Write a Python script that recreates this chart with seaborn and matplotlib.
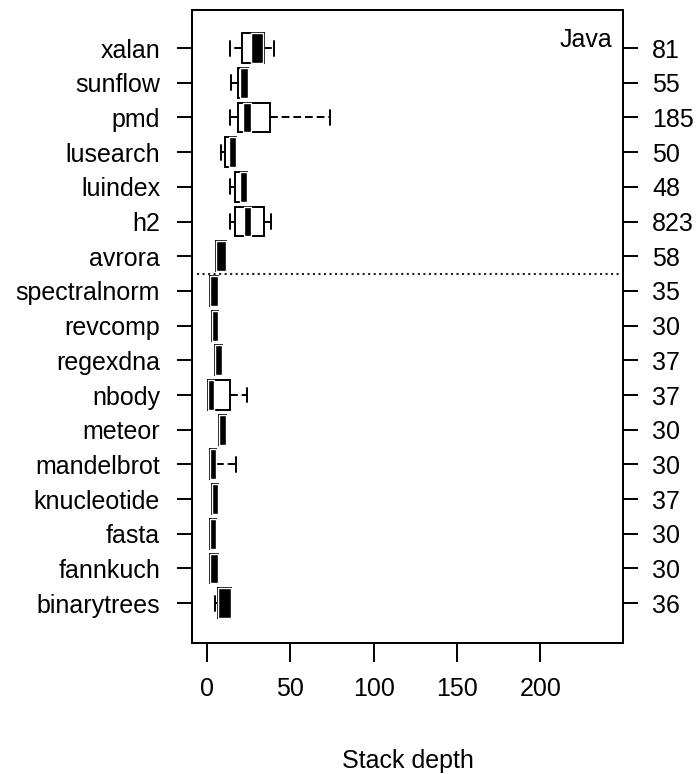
import numpy as np
import pandas as pd
import seaborn as sns
import matplotlib
matplotlib.use('Agg')
import matplotlib.pyplot as plt

# benchmarks, top to bottom
benchmarks = ['xalan', 'sunflow', 'pmd', 'lusearch', 'luindex', 'h2', 'avrora',
              'spectralnorm', 'revcomp', 'regexdna', 'nbody', 'meteor',
              'mandelbrot', 'knucleotide', 'fasta', 'fannkuch', 'binarytrees']
counts = [81, 55, 185, 50, 48, 823, 58, 35, 30, 37, 37, 30, 30, 37, 30, 30, 36]

# five-number summaries: min, q1, median, q3, max
lo  = [13.7, 14.6, 13.6, 8.6, 13.6, 13.6, 5.6, 2.0, 3.0, 4.6, 0.6, 7.2, 2.0, 3.0, 2.0, 2.0, 4.6]
q1  = [21.0, 18.6, 18.6, 10.6, 17.0, 17.0, 5.6, 2.0, 3.0, 4.6, 0.6, 7.2, 2.0, 3.0, 2.0, 2.0, 6.6]
med = [30.0, 22.0, 24.0, 15.0, 21.0, 24.0, 9.0, 4.0, 5.0, 7.0, 2.5, 9.0, 3.5, 5.0, 4.0, 4.0, 10.0]
q3  = [34.0, 24.6, 37.6, 17.6, 24.0, 34.0, 11.6, 6.6, 6.6, 9.0, 14.0, 11.6, 5.6, 6.6, 5.6, 6.6, 14.2]
hi  = [40.0, 24.6, 74.0, 17.6, 24.0, 38.6, 11.6, 6.6, 6.6, 9.0, 24.0, 11.6, 17.6, 6.6, 5.6, 6.6, 14.2]
# dark band around the median (notch region)
band_lo = [26.2, 20.0, 21.6, 13.0, 19.6, 22.2, 5.6, 2.0, 3.0, 4.6, 0.6, 7.2, 2.0, 3.0, 2.0, 2.0, 6.6]
band_hi = [33.6, 24.6, 26.6, 17.6, 24.0, 26.6, 11.6, 6.6, 6.6, 9.0, 4.0, 11.6, 5.6, 6.6, 5.6, 6.6, 14.2]

rows = []
for i, b in enumerate(benchmarks):
    for v in (lo[i], q1[i], med[i], q3[i], hi[i]):
        rows.append({'bench': b, 'depth': v})
df = pd.DataFrame(rows)

sns.set_style('ticks')
plt.rcParams['font.family'] = ['Liberation Sans', 'DejaVu Sans']
plt.rcParams['font.size'] = 18
for k in ['text.color', 'axes.labelcolor', 'xtick.color', 'ytick.color', 'axes.edgecolor']:
    plt.rcParams[k] = 'black'

fig = plt.figure(figsize=(6.97, 7.74), dpi=100)
ax = fig.add_axes([0.2755, 0.1696, 0.6184, 0.8174])

lw = 1.4
sns.boxplot(data=df, x='depth', y='bench', order=benchmarks, ax=ax,
            width=0.86, whis=(0, 100), color='white', linecolor='black',
            linewidth=lw, capwidths=0.43,
            whiskerprops={'linestyle': (0, (4, 2))},
            medianprops={'linewidth': 1.5})

ax.barh(np.arange(len(benchmarks)), np.array(band_hi) - np.array(band_lo),
        left=band_lo, height=0.86, color='black', zorder=3)

ax.hlines(6.5, -6, 248, colors='#222222', linestyles=':', linewidth=1.5)

ax.set_xlim(-9, 249.6)
ax.set_ylim(len(benchmarks) - 1 + 1.14, -1.095)
ax.set_xticks([0, 50, 100, 150, 200])
ax.set_xlabel('Stack depth', labelpad=34)
ax.set_ylabel('')
for s in ax.spines.values():
    s.set_linewidth(lw)
ax.tick_params(axis='x', length=14, width=lw, pad=11)
ax.tick_params(axis='y', length=11, width=lw, pad=12)

ax.text(0.975, 0.953, 'Java', ha='right', va='center', transform=ax.transAxes)

ax2 = ax.twinx()
ax2.set_ylim(ax.get_ylim())
ax2.set_yticks(np.arange(len(benchmarks)))
ax2.set_yticklabels([str(c) for c in counts])
ax2.tick_params(axis='y', length=11, width=lw, pad=10)
for s in ax2.spines.values():
    s.set_linewidth(lw)

fig.savefig('out.png', dpi=100)
